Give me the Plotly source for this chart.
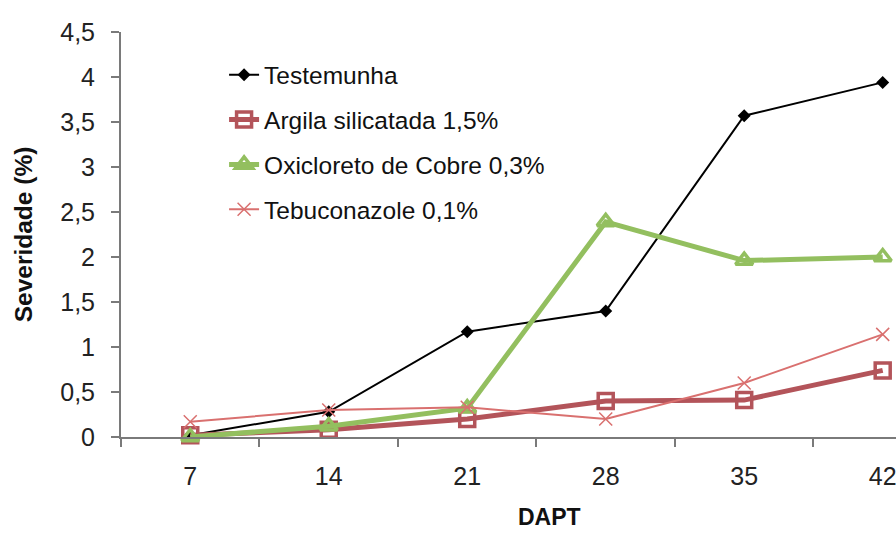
import plotly.graph_objects as go

# Days after planting/treatment (DAPT)
dapt = ["7", "14", "21", "28", "35", "42"]

# Disease severity (%) per treatment
testemunha = [0.02, 0.28, 1.17, 1.40, 3.57, 3.94]
argila = [0.02, 0.08, 0.20, 0.40, 0.41, 0.74]
oxicloreto = [0.00, 0.12, 0.32, 2.39, 1.96, 2.00]
tebuconazole = [0.17, 0.30, 0.33, 0.20, 0.60, 1.14]

y_ticks = [0, 0.5, 1, 1.5, 2, 2.5, 3, 3.5, 4, 4.5]
y_tick_text = ["0", "0,5", "1", "1,5", "2", "2,5", "3", "3,5", "4", "4,5"]

FONT = "Liberation Sans, Arial, sans-serif"

series = [
    ("Testemunha", testemunha, dict(color="#000000", width=2),
     dict(symbol="diamond", size=10, color="#000000")),
    ("Argila silicatada 1,5%", argila, dict(color="#B3545A", width=5),
     dict(symbol="square-open", size=15, color="#B3545A", line=dict(width=3.5, color="#B3545A"))),
    ("Oxicloreto de Cobre 0,3%", oxicloreto, dict(color="#93BF5F", width=5),
     dict(symbol="triangle-up-open", size=15, color="#93BF5F", line=dict(width=3.5, color="#93BF5F"))),
    ("Tebuconazole 0,1%", tebuconazole, dict(color="#D9706F", width=2),
     dict(symbol="x-thin-open", size=13, color="#D9706F", line=dict(width=1.5, color="#D9706F"))),
]

fig = go.Figure()
for name, values, line, marker in series:
    fig.add_trace(go.Scatter(
        x=dapt, y=values, name=name, mode="lines+markers",
        line=line, marker=marker, legendgroup=name,
        cliponaxis=False,
    ))

fig.update_layout(
    width=896, height=534,
    margin=dict(l=121, r=0, t=32, b=97),
    paper_bgcolor="white", plot_bgcolor="white",
    font=dict(family=FONT, size=25, color="#222222"),
    showlegend=True,
    legend=dict(
        x=0.133, y=0.95, xanchor="left", yanchor="top",
        bgcolor="rgba(0,0,0,0)", font=dict(size=24.5, color="#111111"),
        tracegroupgap=10, itemwidth=30,
    ),
    xaxis=dict(
        type="category", range=[-0.5, 5.096],
        showgrid=False, showline=True, linecolor="#7A7A7A", linewidth=2,
        ticks="outside", tickson="boundaries", ticklen=8, tickwidth=2,
        tickcolor="#7A7A7A", tickfont=dict(size=25, color="#222222"),
        ticklabelstandoff=16, zeroline=False,
    ),
    yaxis=dict(
        range=[0, 4.5], tickvals=y_ticks, ticktext=y_tick_text,
        showgrid=False, showline=True, linecolor="#7A7A7A", linewidth=2,
        ticks="outside", ticklen=8, tickwidth=2, tickcolor="#7A7A7A",
        ticklabelstandoff=11, tickfont=dict(size=25, color="#222222"),
        zeroline=False,
        title=dict(text="<b>Severidade (%)</b>", font=dict(size=24.5, color="#111111"),
                   standoff=21),
    ),
    annotations=[dict(
        text="<b>DAPT</b>", xref="paper", yref="paper", x=0.5535, y=0,
        xanchor="center", yanchor="middle", yshift=-80, showarrow=False,
        font=dict(size=23, color="#111111"),
    )],
)

fig.write_html("out.html")
